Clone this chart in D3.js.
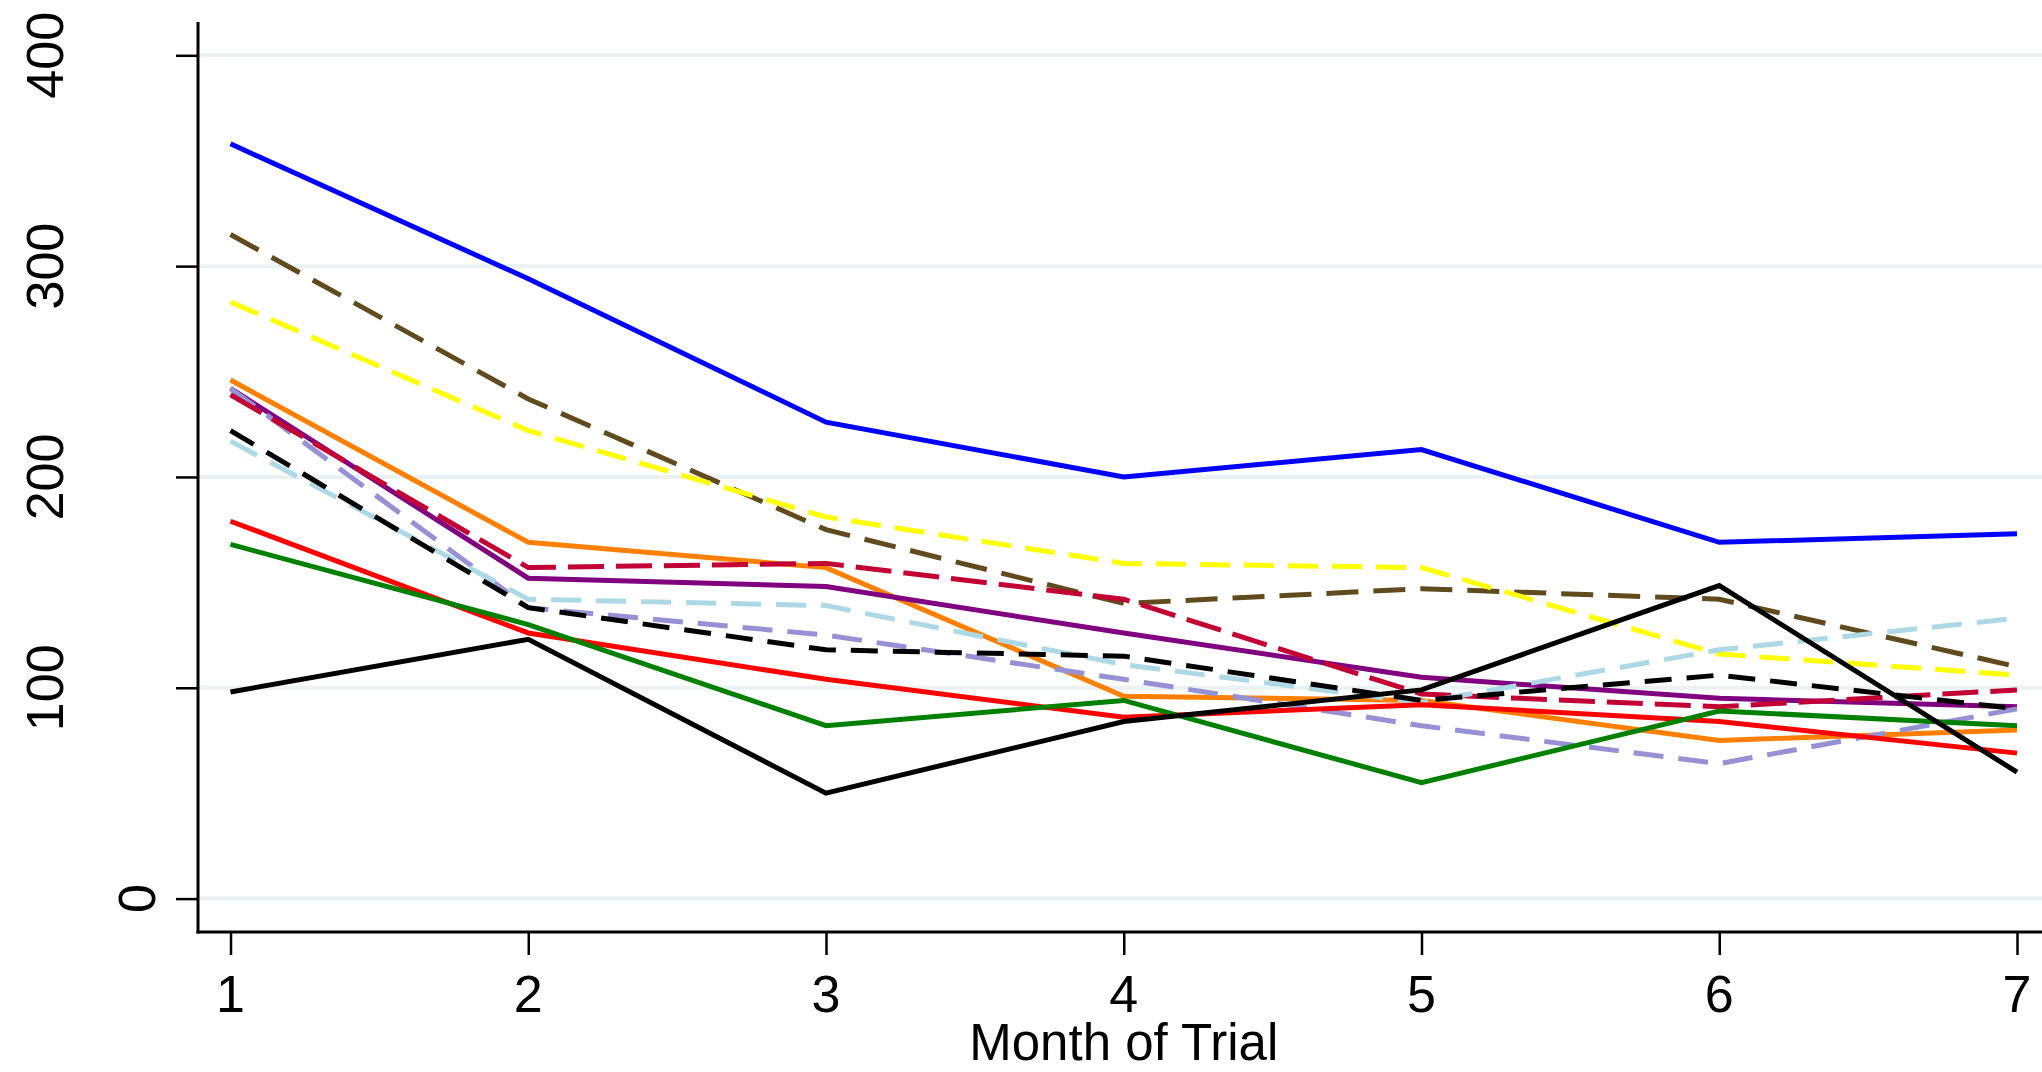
<!DOCTYPE html>
<html>
<head>
<meta charset="utf-8">
<script src="https://cdn.jsdelivr.net/npm/d3@7"></script>
<style>
  html, body { margin: 0; padding: 0; background: #ffffff; }
  svg { display: block; }
  text { font-family: "Liberation Sans", Arial, sans-serif; fill: #000; }
</style>
</head>
<body>
<svg id="chart" width="2042" height="1072"></svg>
<script>
// Months on the x axis
const months = [1, 2, 3, 4, 5, 6, 7];
const yTicks = [0, 100, 200, 300, 400];
const xTitle = "Month of Trial";

// One monthly series per group
const seriesNames = ["g01", "g02", "g03", "g04", "g05", "g06", "g07", "g08", "g09", "g10", "g11", "g12"];
const g01 = [358, 294, 226, 200, 213, 169, 173];
const g02 = [315, 237, 175, 140, 147, 142, 110];
const g03 = [283, 222, 181, 159, 157, 116, 106];
const g04 = [246, 169, 157, 96, 94, 75, 80];
const g05 = [242, 138, 125, 104, 82, 64, 90];
const g06 = [242, 152, 148, 126, 105, 95, 91];
const g07 = [239, 157, 159, 142, 97, 91, 99];
const g08 = [222, 138, 118, 115, 94, 106, 90];
const g09 = [217, 142, 139, 111, 93, 118, 133];
const g10 = [179, 126, 104, 86, 92, 84, 69];
const g11 = [168, 130, 82, 94, 55, 89, 82];
const g12 = [98, 123, 50, 84, 99, 148.5, 60];
const seriesValues = [g01, g02, g03, g04, g05, g06, g07, g08, g09, g10, g11, g12];

// Line styles per series (colour, dash pattern)
const lineColors = ["#0000ff", "#614b1e", "#ffff00", "#ff8000", "#9690d4", "#800080",
                    "#c20034", "#000000", "#add8e6", "#ff0000", "#008000", "#000000"];
const lineDashes = [null, "32,15", "30,14", null, "30,15", null,
                    "36,12", "27,15", "30,15", null, null, null];
// Drawing order (first drawn is at the bottom)
const drawOrder = [0, 1, 2, 3, 5, 4, 6, 8, 7, 9, 10, 11];

const svg = d3.select("#chart");
const W = 2042;

const x = d3.scaleLinear().domain([1, 7]).range([230.5, 2017]);
const y = d3.scaleLinear().domain([0, 400]).range([898.6, 55.3]);

const axisX = 198, axisY = 932;

// Horizontal grid lines
svg.append("g").selectAll("line").data(yTicks).join("line")
  .attr("x1", axisX).attr("x2", W)
  .attr("y1", d => y(d)).attr("y2", d => y(d))
  .attr("stroke", "#eaf2f3").attr("stroke-width", 4);

// Series lines
const line = d3.line().x((d, i) => x(months[i])).y(d => y(d));
const gl = svg.append("g").attr("fill", "none");
drawOrder.forEach(k => {
  gl.append("path")
    .datum(seriesValues[k])
    .attr("d", line)
    .attr("stroke", lineColors[k])
    .attr("stroke-width", 5)
    .attr("stroke-linejoin", "miter")
    .attr("stroke-dasharray", lineDashes[k]);
});

// Y axis
const yAxis = d3.axisLeft(y).tickValues(yTicks).tickSize(22).tickFormat("");
const gy = svg.append("g").attr("transform", `translate(${axisX},0)`).call(yAxis);
gy.select(".domain").remove();
gy.selectAll(".tick line").attr("stroke", "#000").attr("stroke-width", 2.5);
svg.append("line").attr("x1", axisX).attr("x2", axisX).attr("y1", 22).attr("y2", axisY + 1.5)
  .attr("stroke", "#000").attr("stroke-width", 3);

// Vertical tick labels, reading bottom to top
svg.append("g").selectAll("text").data(yTicks).join("text")
  .attr("transform", d => {
    const s = String(d);
    const bx = 155 - (s.length - 1) * 46;
    return `translate(${bx},${y(d)}) rotate(-90)`;
  })
  .attr("text-anchor", "middle")
  .attr("font-size", 52)
  .text(d => d);

// X axis
const xAxis = d3.axisBottom(x).tickValues(months).tickSize(23).tickFormat("");
const gx = svg.append("g").attr("transform", `translate(0,${axisY})`).call(xAxis);
gx.select(".domain").remove();
gx.selectAll(".tick line").attr("stroke", "#000").attr("stroke-width", 2.5);
svg.append("line").attr("x1", axisX - 1.5).attr("x2", W).attr("y1", axisY).attr("y2", axisY)
  .attr("stroke", "#000").attr("stroke-width", 3);

svg.append("g").selectAll("text").data(months).join("text")
  .attr("x", d => x(d)).attr("y", 1012)
  .attr("text-anchor", "middle")
  .attr("font-size", 52)
  .text(d => d);

svg.append("text")
  .attr("x", x(4)).attr("y", 1060)
  .attr("text-anchor", "middle")
  .attr("font-size", 51)
  .text(xTitle);
</script>
</body>
</html>
